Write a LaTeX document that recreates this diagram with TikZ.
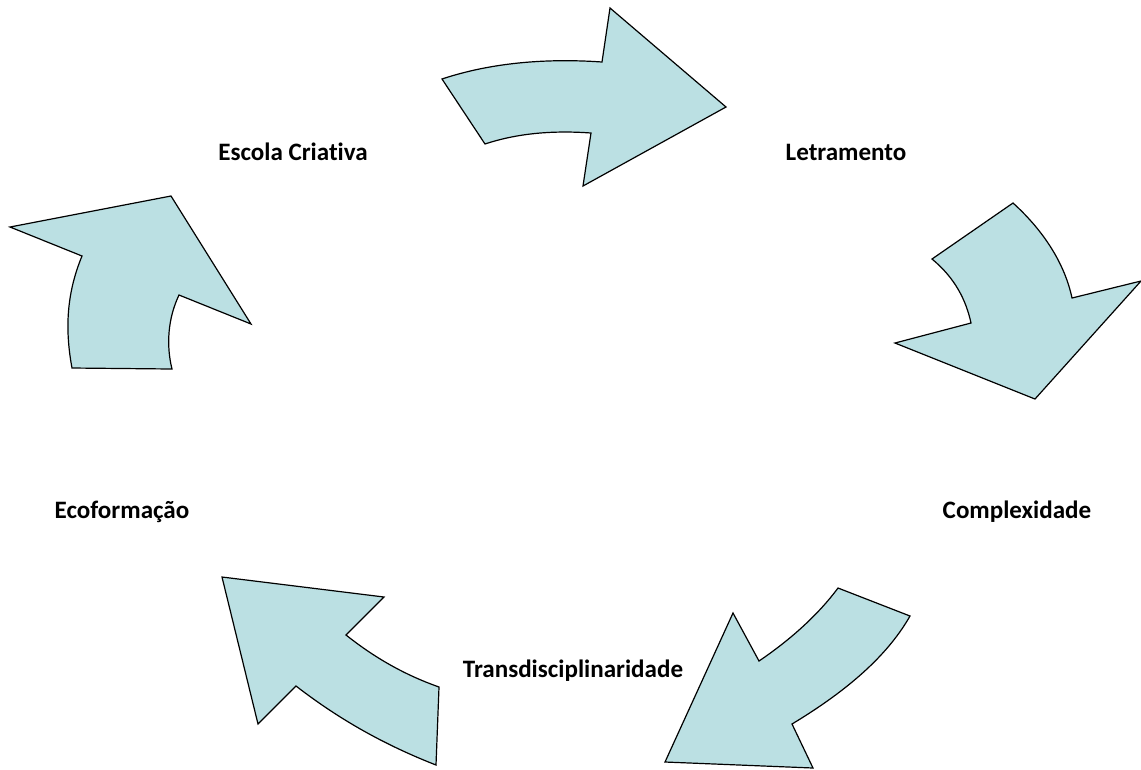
\documentclass[tikz,border=0pt]{standalone}
\usepackage{fontspec}
\setmainfont[Ligatures=NoCommon]{Carlito}
\begin{document}
\begin{tikzpicture}[x=0.75pt,y=-0.75pt,
  cyclearrow/.style={fill=arrowfill,draw=black,line width=0.9pt,line join=miter},
  steplabel/.style={font=\bfseries\fontsize{18.8}{23}\selectfont,text=black,inner sep=0pt}]
\definecolor{arrowfill}{RGB}{187,224,227}
\useasboundingbox (0,0) rectangle (1141,769);

% curved arrow: Escola Criativa -> Letramento
\path[cyclearrow] (442,79) .. controls (490,63) and (545,58) .. (602,62)
  -- (610,8) -- (726,107) -- (583,186) -- (591,133)
  .. controls (550,130) and (515,134) .. (485,144) -- cycle;

% curved arrow: Letramento -> Complexidade
\path[cyclearrow] (1013,203) .. controls (1045,232) and (1065,265) .. (1072,298)
  -- (1141,281) -- (1035,399) -- (895,343) -- (971,323)
  .. controls (966,300) and (955,278) .. (932,259) -- cycle;

% curved arrow: Complexidade -> Transdisciplinaridade
\path[cyclearrow] (838,588) -- (910,616)
  .. controls (885,660) and (840,695) .. (792,724)
  -- (813,768) -- (665,762) -- (733,613) -- (759,661)
  .. controls (790,640) and (818,615) .. (838,588) -- cycle;

% curved arrow: Transdisciplinaridade -> Ecoformacao
\path[cyclearrow] (222,577) -- (384,597) -- (346,635)
  .. controls (375,658) and (405,675) .. (439,687)
  -- (436,765)
  .. controls (385,745) and (340,720) .. (296,686)
  -- (258,724) -- cycle;

% curved arrow: Ecoformacao -> Escola Criativa
\path[cyclearrow] (10,227) -- (171,196) -- (251,324) -- (179,295)
  .. controls (168,318) and (166,345) .. (172,369)
  -- (72,368)
  .. controls (64,325) and (68,290) .. (82,256) -- cycle;

% stage labels
\node[steplabel] (escola) at (293,152) {Escola Criativa};
\node[steplabel] (letramento) at (846,152) {Letramento};
\node[steplabel] (complexidade) at (1017,512) {Complexidade};
\node[steplabel] (trans) at (573,671) {Transdisciplinaridade};
\node[steplabel] (eco) at (122,512) {Ecoformação};
\end{tikzpicture}
\end{document}
